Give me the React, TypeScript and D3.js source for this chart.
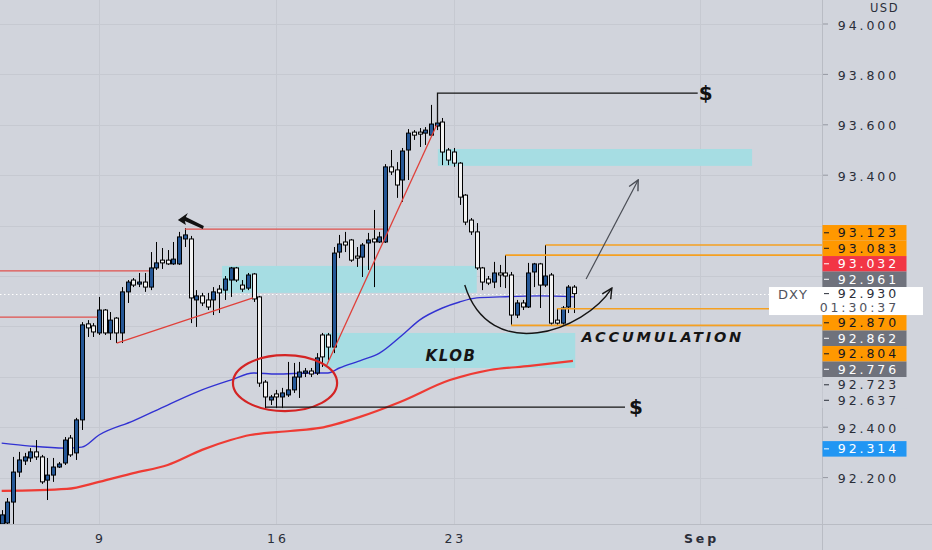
import React, { useRef, useEffect } from 'react';
import * as d3 from 'd3';

// 4h candles, [open, high, low, close], one per bar index
type Candle = [number, number, number, number];

const candles: Candle[] = [
    [92.016, 92.071, 92.008, 92.052], [92.020, 92.119, 92.008, 92.103], [92.103, 92.282, 92.016, 92.222],
    [92.222, 92.302, 92.202, 92.270], [92.266, 92.298, 92.250, 92.282], [92.278, 92.317, 92.262, 92.302],
    [92.302, 92.349, 92.270, 92.282], [92.282, 92.290, 92.175, 92.183], [92.190, 92.278, 92.111, 92.210],
    [92.210, 92.278, 92.183, 92.242], [92.242, 92.262, 92.238, 92.254], [92.258, 92.361, 92.250, 92.349],
    [92.357, 92.369, 92.282, 92.290], [92.298, 92.437, 92.270, 92.429], [92.429, 92.817, 92.389, 92.806],
    [92.810, 92.825, 92.758, 92.794], [92.802, 92.813, 92.758, 92.778], [92.774, 92.917, 92.766, 92.865],
    [92.865, 92.869, 92.766, 92.774], [92.774, 92.857, 92.746, 92.825], [92.833, 92.837, 92.734, 92.774],
    [92.774, 92.956, 92.734, 92.937], [92.937, 92.984, 92.893, 92.976], [92.984, 92.992, 92.956, 92.964],
    [92.968, 93.012, 92.956, 92.976], [92.976, 93.012, 92.937, 92.956], [92.956, 93.095, 92.944, 93.032],
    [93.032, 93.135, 93.024, 93.052], [93.063, 93.111, 93.028, 93.052], [93.063, 93.103, 93.044, 93.048],
    [93.048, 93.135, 93.044, 93.067], [93.048, 93.175, 93.044, 93.155], [93.147, 93.190, 93.115, 93.163],
    [93.147, 93.159, 92.813, 92.913], [92.905, 92.944, 92.798, 92.921], [92.921, 92.933, 92.881, 92.893],
    [92.905, 92.933, 92.865, 92.877], [92.905, 92.956, 92.845, 92.937], [92.948, 92.964, 92.853, 92.933],
    [92.944, 93.000, 92.905, 92.988], [92.984, 93.036, 92.917, 93.032], [93.032, 93.036, 92.976, 92.984],
    [92.964, 92.984, 92.937, 92.948], [92.952, 93.012, 92.944, 93.004], [93.008, 93.012, 92.897, 92.909],
    [92.917, 92.921, 92.560, 92.575], [92.579, 92.587, 92.476, 92.520], [92.508, 92.528, 92.488, 92.520],
    [92.532, 92.548, 92.476, 92.520], [92.520, 92.556, 92.476, 92.536], [92.528, 92.659, 92.520, 92.548],
    [92.548, 92.655, 92.536, 92.599], [92.599, 92.659, 92.516, 92.619], [92.615, 92.635, 92.599, 92.623],
    [92.623, 92.635, 92.599, 92.611], [92.615, 92.694, 92.607, 92.675], [92.766, 92.774, 92.639, 92.679],
    [92.766, 92.774, 92.667, 92.718], [92.718, 93.115, 92.694, 93.091], [93.095, 93.163, 93.071, 93.127],
    [93.135, 93.175, 93.095, 93.123], [93.143, 93.147, 93.056, 93.063], [93.079, 93.115, 93.036, 93.071],
    [93.075, 93.131, 92.996, 93.123], [93.131, 93.171, 93.024, 93.143], [93.147, 93.262, 92.956, 93.135],
    [93.135, 93.175, 93.131, 93.155], [93.135, 93.444, 93.131, 93.433], [93.433, 93.500, 93.401, 93.413],
    [93.421, 93.452, 93.310, 93.361], [93.381, 93.508, 93.294, 93.496], [93.500, 93.583, 93.381, 93.567],
    [93.571, 93.579, 93.540, 93.559], [93.571, 93.587, 93.512, 93.563], [93.567, 93.591, 93.520, 93.579],
    [93.559, 93.679, 93.559, 93.603], [93.595, 93.722, 93.579, 93.607], [93.611, 93.627, 93.440, 93.492],
    [93.500, 93.508, 93.440, 93.460], [93.492, 93.508, 93.433, 93.448], [93.448, 93.452, 93.282, 93.313],
    [93.321, 93.325, 93.202, 93.214], [93.222, 93.230, 93.163, 93.175], [93.175, 93.210, 93.024, 93.032],
    [93.032, 93.036, 92.944, 92.976], [92.988, 93.000, 92.964, 92.972], [92.976, 93.056, 92.952, 93.012],
    [93.012, 93.044, 92.956, 93.004], [93.012, 93.083, 92.952, 93.000], [93.004, 93.016, 92.806, 92.845],
    [92.845, 92.905, 92.833, 92.893], [92.893, 92.905, 92.865, 92.877], [92.877, 93.052, 92.873, 93.012],
    [93.016, 93.052, 92.956, 93.048], [93.048, 93.052, 92.873, 92.964], [92.964, 93.123, 92.956, 93.000],
    [93.004, 93.012, 92.806, 92.813], [92.825, 92.869, 92.806, 92.813], [92.813, 92.881, 92.806, 92.873],
    [92.877, 92.964, 92.853, 92.956], [92.956, 92.964, 92.853, 92.930],
];

// moving averages, [bar index, value]
const blueMa: [number, number][] = [
    [0, 92.337], [5, 92.325], [11, 92.317], [14, 92.321], [17, 92.369], [23, 92.425], [29, 92.488],
    [35, 92.548], [40, 92.587], [44, 92.615], [48, 92.611], [54, 92.615], [57, 92.615], [59, 92.635],
    [63, 92.667], [66, 92.694], [70, 92.766], [73, 92.825], [77, 92.873], [80, 92.897], [83, 92.913],
    [87, 92.917], [94, 92.921], [100, 92.917],
];
const redMa: [number, number][] = [
    [0, 92.147], [11.4, 92.155], [17, 92.183], [23, 92.218], [29, 92.250], [35, 92.310], [40, 92.349],
    [43.4, 92.369], [50.4, 92.385], [55.6, 92.397], [62.6, 92.441], [69.6, 92.500], [78.3, 92.587],
    [85.3, 92.627], [92.3, 92.643], [99.8, 92.663],
];

const priceTicks = [92.2, 92.4, 92.6, 92.8, 93.0, 93.2, 93.4, 93.6, 93.8, 94.0];
const dateTickIdx = [17, 48, 79, 122];
const dateTickLabels = ['9', '16', '23', 'Sep'];

const tagPrices = [93.123, 93.083, 93.032, 92.961, 92.870, 92.862, 92.804, 92.776, 92.723, 92.637, 92.314];
const tagKinds = ['orange', 'orange', 'red', 'gray', 'orange', 'gray', 'orange', 'gray', 'plain', 'plain', 'blue'];
const lastPrice = 92.930;
const countdown = '01:30:37';
const symbol = 'DXY';
const currency = 'USD';

// drawings, in bar index / price
const redLevels: [number, number, number][] = [[-1, 25.7, 93.020], [-1, 16.7, 92.837], [32, 66.6, 93.186]];
const redTrends: [number, number, number, number][] = [[20.1, 92.734, 43.9, 92.913], [56.8, 92.647, 76, 93.599]];
const zones: [number, number, number, number][] = [
    [38.5, 83.0, 93.040, 92.933], [76.2, 131.1, 93.504, 93.437], [56.3, 100.2, 92.774, 92.635],
];
const orangeLevels: [number, number][] = [[95, 93.123], [88, 93.083], [97, 92.870], [89, 92.804]];
const liquidityHigh = { i: 76, from: 93.607, price: 93.726, to: 121.6, label: 123 };
const liquidityLow = { from: 46.0, price: 92.480, to: 108.9, label: 110.8 };
const sweepCircle = { i: 49.5, price: 92.575, bars: 9.1, span: 0.111 };
const cupCurve: [number, number][] = [[80.9, 92.964], [85.3, 92.646], [101.8, 92.781], [106.6, 92.952]];
const breakoutArrow: [number, number][] = [[102.1, 92.988], [111.2, 93.381]];
const klobLabel = { i: 78.5, price: 92.663, text: 'KLOB' };
const accLabel = { i: 101.3, price: 92.738, text: 'ACCUMULATION' };

const W = 932;
const H = 550;
const AXIS_X = 822;
const AXIS_Y = 524;
const BG = '#d1d4dc';
const FONT = '"DejaVu Sans", sans-serif';

const App: React.FC = () => {
    const ref = useRef<SVGSVGElement | null>(null);

    useEffect(() => {
        if (!ref.current) return;
        const svg = d3.select(ref.current);
        svg.selectAll('*').remove();

        const x = d3.scaleLinear().domain([17, 122]).range([99, 700]);
        const y = d3.scaleLinear().domain([92.2, 94.0]).range([477.6, 24]);

        svg.append('rect').attr('width', W).attr('height', H).attr('fill', BG);

        const defs = svg.append('defs');
        defs.append('clipPath').attr('id', 'plot')
            .append('rect').attr('width', AXIS_X).attr('height', AXIS_Y);
        ['#151515', '#4a4d55'].forEach((c, k) => {
            defs.append('marker')
                .attr('id', 'arr' + k)
                .attr('viewBox', '0 0 12 12')
                .attr('refX', 11).attr('refY', 6)
                .attr('markerWidth', 12).attr('markerHeight', 12)
                .attr('markerUnits', 'userSpaceOnUse')
                .attr('orient', 'auto')
                .append('path')
                .attr('d', 'M1,1 L11,6 L1,11')
                .attr('fill', 'none').attr('stroke', c).attr('stroke-width', 1.4);
        });

        const plot = svg.append('g').attr('clip-path', 'url(#plot)');

        // grid
        plot.selectAll('line.hg').data(priceTicks).join('line')
            .attr('class', 'hg')
            .attr('x1', 0).attr('x2', AXIS_X)
            .attr('y1', d => Math.round(y(d)) + 0.5).attr('y2', d => Math.round(y(d)) + 0.5)
            .attr('stroke', '#c6c9d1').attr('stroke-width', 1);
        plot.selectAll('line.vg').data(dateTickIdx).join('line')
            .attr('class', 'vg')
            .attr('x1', d => Math.round(x(d)) + 0.5).attr('x2', d => Math.round(x(d)) + 0.5)
            .attr('y1', 0).attr('y2', AXIS_Y)
            .attr('stroke', '#c6c9d1').attr('stroke-width', 1);

        // zones
        plot.selectAll('rect.zone').data(zones).join('rect')
            .attr('class', 'zone')
            .attr('x', d => x(d[0])).attr('width', d => x(d[1]) - x(d[0]))
            .attr('y', d => y(d[2])).attr('height', d => y(d[3]) - y(d[2]))
            .attr('fill', '#a6dde3');

        // last price line
        plot.append('line')
            .attr('x1', 0).attr('x2', AXIS_X)
            .attr('y1', Math.round(y(lastPrice)) + 0.5).attr('y2', Math.round(y(lastPrice)) + 0.5)
            .attr('stroke', '#ffffff').attr('stroke-dasharray', '1.5 2.5');

        // moving averages
        const maLine = d3.line<[number, number]>()
            .x(d => x(d[0])).y(d => y(d[1]))
            .curve(d3.curveMonotoneX);
        plot.append('path').attr('d', maLine(redMa)!)
            .attr('fill', 'none').attr('stroke', '#ee3b34').attr('stroke-width', 2.2);
        plot.append('path').attr('d', maLine(blueMa)!)
            .attr('fill', 'none').attr('stroke', '#3232d2').attr('stroke-width', 1.4);

        // candles
        const cg = plot.append('g');
        const cx = (i: number) => Math.round(x(i)) + 0.5;
        cg.selectAll('line').data(candles).join('line')
            .attr('x1', (_, i) => cx(i)).attr('x2', (_, i) => cx(i))
            .attr('y1', d => y(d[1])).attr('y2', d => y(d[2]))
            .attr('stroke', '#000').attr('stroke-width', 1);
        cg.selectAll('rect').data(candles).join('rect')
            .attr('x', (_, i) => cx(i) - 2)
            .attr('width', 4)
            .attr('y', d => y(Math.max(d[0], d[3])))
            .attr('height', d => Math.max(1, Math.abs(y(d[0]) - y(d[3]))))
            .attr('fill', d => (d[3] >= d[0] ? '#255796' : '#f2f2f2'))
            .attr('stroke', '#000').attr('stroke-width', 1);

        // red structure lines
        plot.selectAll('line.rl').data(redLevels).join('line')
            .attr('class', 'rl')
            .attr('x1', d => x(d[0])).attr('x2', d => x(d[1]))
            .attr('y1', d => y(d[2])).attr('y2', d => y(d[2]))
            .attr('stroke', '#e0504c').attr('stroke-width', 1.2);
        plot.selectAll('line.rt').data(redTrends).join('line')
            .attr('class', 'rt')
            .attr('x1', d => x(d[0])).attr('y1', d => y(d[1]))
            .attr('x2', d => x(d[2])).attr('y2', d => y(d[3]))
            .attr('stroke', '#e0403a').attr('stroke-width', 1.3);

        // orange levels
        plot.selectAll('line.ol').data(orangeLevels).join('line')
            .attr('class', 'ol')
            .attr('x1', d => x(d[0])).attr('x2', AXIS_X)
            .attr('y1', d => y(d[1])).attr('y2', d => y(d[1]))
            .attr('stroke', '#f5a021').attr('stroke-width', 1.6);

        // sweep circle
        plot.append('ellipse')
            .attr('cx', x(sweepCircle.i)).attr('cy', y(sweepCircle.price))
            .attr('rx', x(sweepCircle.i + sweepCircle.bars) - x(sweepCircle.i))
            .attr('ry', y(sweepCircle.price - sweepCircle.span) - y(sweepCircle.price))
            .attr('fill', 'none').attr('stroke', '#d42424').attr('stroke-width', 2.2);

        // liquidity lines
        plot.append('path')
            .attr('d', `M${cx(liquidityHigh.i)},${y(liquidityHigh.from)} V${y(liquidityHigh.price)} H${x(liquidityHigh.to)}`)
            .attr('fill', 'none').attr('stroke', '#151515').attr('stroke-width', 1.3);
        plot.append('line')
            .attr('x1', x(liquidityLow.from)).attr('x2', x(liquidityLow.to))
            .attr('y1', y(liquidityLow.price)).attr('y2', y(liquidityLow.price))
            .attr('stroke', '#151515').attr('stroke-width', 1.3);
        [[liquidityHigh.label, liquidityHigh.price], [liquidityLow.label, liquidityLow.price]].forEach(([i, p]) => {
            plot.append('text')
                .attr('x', x(i)).attr('y', y(p)).attr('dy', '0.36em')
                .attr('text-anchor', 'middle')
                .style('font-family', FONT).style('font-size', '20px').style('font-weight', 700)
                .attr('fill', '#111').text('$');
        });

        // cup + arrows
        const [p0, c1, c2, p3] = cupCurve;
        plot.append('path')
            .attr('d', `M${x(p0[0])},${y(p0[1])} C${x(c1[0])},${y(c1[1])} ${x(c2[0])},${y(c2[1])} ${x(p3[0])},${y(p3[1])}`)
            .attr('fill', 'none').attr('stroke', '#151515').attr('stroke-width', 1.4)
            .attr('marker-end', 'url(#arr0)');
        plot.append('line')
            .attr('x1', x(breakoutArrow[0][0])).attr('y1', y(breakoutArrow[0][1]))
            .attr('x2', x(breakoutArrow[1][0])).attr('y2', y(breakoutArrow[1][1]))
            .attr('stroke', '#4a4d55').attr('stroke-width', 1.2)
            .attr('marker-end', 'url(#arr1)');

        // flag icon on swing high
        plot.append('path')
            .attr('transform', `translate(${x(32)},${y(candles[32][1])})`)
            .attr('d', 'M-7,-8 L3,-15 L1,-11 L19,-2 L18,1 L0,-7 L1,-3 Z')
            .attr('fill', '#111');

        // labels on chart
        [klobLabel, accLabel].forEach((l, k) => {
            plot.append('text')
                .attr('x', x(l.i)).attr('y', y(l.price))
                .attr('text-anchor', k === 0 ? 'middle' : 'start')
                .style('font-family', FONT).style('font-size', k === 0 ? '15px' : '14.5px')
                .style('font-weight', 700).style('font-style', 'italic')
                .style('letter-spacing', k === 0 ? '1.5px' : '2.8px')
                .attr('fill', '#151515').text(l.text);
        });

        // axes frame
        svg.append('line').attr('x1', 0).attr('x2', W).attr('y1', AXIS_Y + 0.5).attr('y2', AXIS_Y + 0.5)
            .attr('stroke', '#b9bcc4');
        svg.append('line').attr('x1', AXIS_X + 0.5).attr('x2', AXIS_X + 0.5).attr('y1', 0).attr('y2', H)
            .attr('stroke', '#b9bcc4');

        const label = (g: d3.Selection<any, any, any, any>, xx: number, yy: number, t: string, fill: string, anchor = 'end', weight = 400) =>
            g.append('text')
                .attr('x', xx).attr('y', yy).attr('dy', '0.36em')
                .attr('text-anchor', anchor)
                .style('font-family', FONT).style('font-size', '12.5px')
                .style('letter-spacing', '2.9px').style('font-weight', weight)
                .attr('fill', fill).text(t);

        // price tags, pushed apart around the last price box
        const tagH = 15.5;
        const lastY = y(lastPrice);
        const boxTop = lastY - 6.6;
        const boxBottom = lastY + 21.4;
        const centers: number[] = tagPrices.map(p => y(p));
        let top = boxTop;
        for (let k = tagPrices.length - 1; k >= 0; k--) {
            if (tagPrices[k] <= lastPrice) continue;
            centers[k] = Math.min(centers[k], top - tagH / 2);
            top = centers[k] - tagH / 2;
        }
        let bottom = boxBottom;
        tagPrices.forEach((p, k) => {
            if (p > lastPrice) return;
            centers[k] = Math.max(centers[k], bottom + tagH / 2);
            bottom = centers[k] + tagH / 2;
        });

        // axis tick labels that are not hidden by a tag
        const axis = svg.append('g');
        const hidden = (yy: number) =>
            centers.some(c => Math.abs(c - yy) < tagH / 2 + 5) || (yy > boxTop - 5 && yy < boxBottom + 5);
        priceTicks.forEach(p => {
            axis.append('line').attr('x1', AXIS_X + 1).attr('x2', AXIS_X + 6)
                .attr('y1', y(p)).attr('y2', y(p)).attr('stroke', '#9598a1');
            if (!hidden(y(p))) label(axis, 899, y(p) + 1, p.toFixed(3), '#2a2e39');
        });

        // currency
        label(axis, 899, 8, currency, '#2a2e39').style('font-size', '11.5px').style('letter-spacing', '1.5px');

        // date labels
        dateTickIdx.forEach((d, k) => {
            label(axis, x(d) + 1.5, 538, dateTickLabels[k], '#2a2e39', 'middle', dateTickLabels[k] === 'Sep' ? 700 : 400);
        });

        const fills: Record<string, string> = {
            orange: '#ff9800', red: '#f23645', gray: '#6f727c', blue: '#2196f3', plain: BG,
        };
        const inks: Record<string, string> = {
            orange: '#131722', red: '#ffffff', gray: '#ffffff', blue: '#ffffff', plain: '#2a2e39',
        };
        tagPrices.forEach((p, k) => {
            const kind = tagKinds[k];
            axis.append('rect')
                .attr('x', AXIS_X + 0.5).attr('y', centers[k] - tagH / 2)
                .attr('width', 84).attr('height', tagH)
                .attr('fill', fills[kind]);
            axis.append('line').attr('x1', AXIS_X + 2).attr('x2', AXIS_X + 7)
                .attr('y1', centers[k]).attr('y2', centers[k]).attr('stroke', inks[kind]);
            label(axis, 899, centers[k], p.toFixed(3), inks[kind]);
        });

        // last price box
        axis.append('rect')
            .attr('x', 769).attr('y', boxTop).attr('width', 154).attr('height', boxBottom - boxTop)
            .attr('fill', '#ffffff');
        axis.append('text')
            .attr('x', 778).attr('y', lastY + 1).attr('dy', '0.36em')
            .style('font-family', FONT).style('font-size', '13px').style('letter-spacing', '1px')
            .attr('fill', '#50535e').text(symbol);
        axis.append('line').attr('x1', AXIS_X + 2).attr('x2', AXIS_X + 7)
            .attr('y1', lastY).attr('y2', lastY).attr('stroke', '#2a2e39');
        label(axis, 899, lastY, lastPrice.toFixed(3), '#2a2e39');
        label(axis, 899, lastY + 13.5, countdown, '#50535e');
    }, []);

    return <svg ref={ref} width={W} height={H} style={{ position: 'fixed', left: 0, top: 0 }} />;
};

export default App;
